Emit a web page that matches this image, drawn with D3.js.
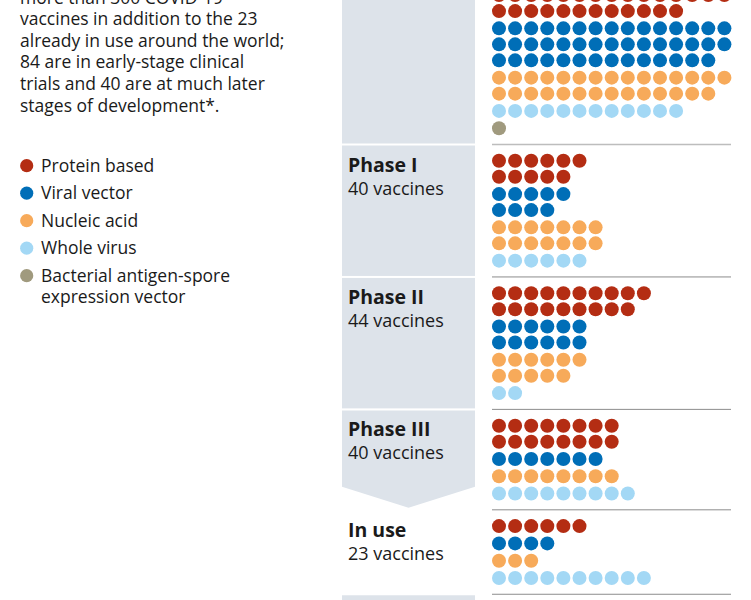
<!DOCTYPE html>
<html><head><meta charset="utf-8">
<script src="https://cdn.jsdelivr.net/npm/d3@7"></script>
<style>
body{margin:0;background:#fff}
svg{display:block}
text{font-family:"Open Sans",sans-serif;fill:#1a1a1a}
</style>
</head><body>
<svg id="chart" width="751" height="600"></svg>
<script>
// ---- data ----
const phases = ["Preclinical", "Phase I", "Phase II", "Phase III", "In use"];
const types = ["Protein based", "Viral vector", "Nucleic acid", "Whole virus", "Bacterial antigen-spore expression vector"];
const protein   = [102, 11, 19, 16, 6];
const viral     = [44, 9, 12, 7, 4];
const nucleic   = [29, 14, 11, 8, 3];
const whole     = [12, 6, 2, 9, 10];
const bacterial = [1, 0, 0, 0, 0];
const introLines = [
  "more than 300 COVID-19",
  "vaccines in addition to the 23",
  "already in use around the world;",
  "84 are in early-stage clinical",
  "trials and 40 are at much later",
  "stages of development*."
];
const legendLines = [["Protein based"], ["Viral vector"], ["Nucleic acid"], ["Whole virus"], ["Bacterial antigen-spore", "expression vector"]];

// ---- style / layout ----
const colors = ["#b42d13", "#006eb7", "#f7aa5a", "#a3d8f5", "#a09a7e"];
const maxPerRow = [15, 7, 10, 10, 10];
const series = [protein, viral, nucleic, whole, bacterial];
const svg = d3.select("#chart");

const x = d3.scaleLinear().domain([0, 14]).range([499, 724.4]);
const rowUnit = d3.scaleLinear().domain([0, 1]).range([0, 16]);
const catGap = 1.08, pad = 16.3;

// build rows per phase
const layout = phases.map((ph, p) => {
  const rows = [];
  let u = 0;
  series.forEach((s, t) => {
    const n = s[p];
    if (!n) return;
    const nr = Math.ceil(n / maxPerRow[p]);
    const per = Math.ceil(n / nr);
    for (let r = 0; r < nr; r++) {
      const cnt = Math.min(per, n - r * per);
      if (rows.length) u += (r === 0 ? catGap : 1);
      rows.push({type: t, count: cnt, u});
    }
  });
  const total = series.reduce((a, s) => a + s[p], 0);
  return {name: ph, rows, total, height: pad * 2 + rowUnit(u)};
});

// section positions: preclinical ends at 144.5
let cursor = 144.5 - layout[0].height;
layout.forEach(l => { l.top = cursor; l.bottom = cursor + l.height; cursor = l.bottom; });

const boxFill = "#dde3ea";
const bx0 = 342, bx1 = 475;
// phase boxes
layout.forEach((l, i) => {
  if (i < 3) {
    svg.append("rect").attr("x", bx0).attr("y", l.top + 1).attr("width", bx1 - bx0)
      .attr("height", l.height - 2).attr("fill", boxFill);
  } else if (i === 3) {
    const y0 = l.top + 1, yTip = l.bottom - 2, ySide = yTip - 21, mid = (bx0 + bx1) / 2;
    svg.append("path").attr("d", `M${bx0},${y0}H${bx1}V${ySide}L${mid},${yTip}L${bx0},${ySide}Z`).attr("fill", boxFill);
  }
});
// box of following section
const lastL = layout[layout.length - 1];
svg.append("rect").attr("x", bx0).attr("y", lastL.bottom + 1).attr("width", bx1 - bx0).attr("height", 40).attr("fill", boxFill);

// separators
layout.forEach((l, i) => {
  svg.append("line").attr("x1", 492).attr("x2", 731).attr("y1", l.bottom).attr("y2", l.bottom)
    .attr("stroke", i === 0 ? "#bdbdbd" : "#8c8c8c").attr("stroke-width", i === 0 ? 1.5 : 1);
});

// dots
layout.forEach(l => {
  const g = svg.append("g");
  l.rows.forEach(row => {
    const cy = l.top + pad + rowUnit(row.u);
    g.selectAll(null).data(d3.range(row.count)).enter().append("circle")
      .attr("cx", d => x(d)).attr("cy", cy).attr("r", 7).attr("fill", colors[row.type]);
  });
});

// phase labels
layout.forEach(l => {
  if (l.top + 27 < 0) return;
  svg.append("text").attr("x", 348).attr("y", l.top + 27).attr("font-size", 19.5).attr("font-weight", 700).text(l.name);
  svg.append("text").attr("x", 348).attr("y", l.top + 50).attr("font-size", 18).text(l.total + " vaccines");
});

// intro paragraph
svg.append("g").selectAll("text").data(introLines).enter().append("text")
  .attr("x", 20).attr("y", (d, i) => 3.5 + i * 21.65).attr("font-size", 17.5).text(d => d);

// legend
const lg = svg.append("g");
types.forEach((t, i) => {
  const cy = 165.7 + i * 27.5;
  lg.append("circle").attr("cx", 26.7).attr("cy", cy).attr("r", 6.6).attr("fill", colors[i]);
  legendLines[i].forEach((ln, j) => {
    lg.append("text").attr("x", 41).attr("y", cy + 6 + j * 21.6).attr("font-size", 17.5).text(ln);
  });
});
</script>
</body></html>
